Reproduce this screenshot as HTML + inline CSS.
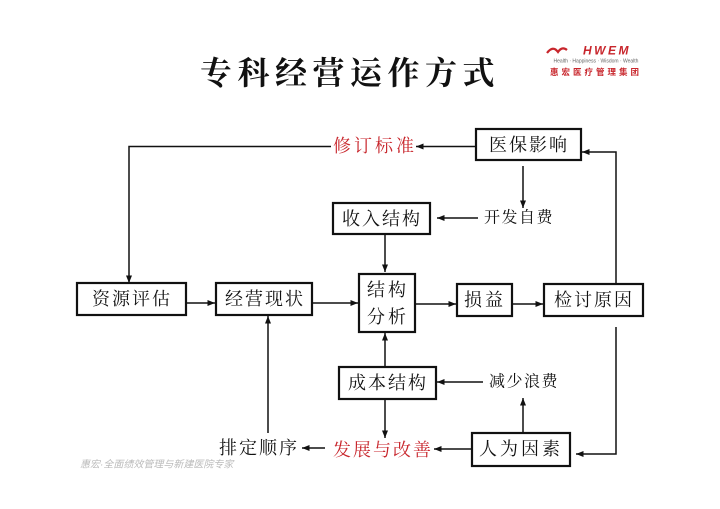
<!DOCTYPE html>
<html><head><meta charset="utf-8"><style>
html,body{margin:0;padding:0;background:#fff;}
svg{display:block;}
.t{font-family:"Liberation Serif","Noto Serif CJK SC",serif;font-size:18px;fill:#111;dominant-baseline:central;text-anchor:middle;}
.s{font-size:16px;}
.r{fill:#c8262c;}
</style></head><body>
<svg width="720" height="509" viewBox="0 0 720 509" xmlns="http://www.w3.org/2000/svg">
<defs>
<marker id="a" viewBox="0 0 10 8" refX="10" refY="4" markerWidth="8" markerHeight="6" markerUnits="userSpaceOnUse" orient="auto">
<path d="M0,0 L10,4 L0,8 Z" fill="#111"/>
</marker>
</defs>
<rect width="720" height="509" fill="#fff"/>
<!-- Title -->
<text x="350" y="71" style="font-family:'Noto Serif CJK SC',serif;font-size:32px;letter-spacing:5.5px;fill:#111;text-anchor:middle;dominant-baseline:central;font-weight:700">专科经营运作方式</text>
<!-- Logo -->
<path d="M547,53 Q553,45 558,52 Q562,46 567,50" fill="none" stroke="#c8262c" stroke-width="2.2"/>
<text x="607" y="50.5" style="font-family:'Liberation Sans',sans-serif;font-size:12px;font-weight:bold;font-style:italic;fill:#c8262c;text-anchor:middle;dominant-baseline:central;letter-spacing:2.5px">HWEM</text>
<text x="596" y="61.5" style="font-family:'Liberation Sans',sans-serif;font-size:5px;fill:#666;text-anchor:middle;dominant-baseline:central">Health · Happiness · Wisdom · Wealth</text>
<text x="596" y="72" style="font-family:'Noto Sans CJK SC',sans-serif;font-size:8.5px;fill:#c8262c;text-anchor:middle;dominant-baseline:central;letter-spacing:3px;font-weight:bold">惠宏医疗管理集团</text>

<g fill="none" stroke="#111" stroke-width="2.2">
<rect x="476" y="129" width="105" height="31"/>
<rect x="333" y="203" width="97" height="31"/>
<rect x="77" y="283" width="109" height="32"/>
<rect x="216" y="283" width="96" height="32"/>
<rect x="359" y="274" width="56" height="58"/>
<rect x="457" y="284" width="55" height="32"/>
<rect x="544" y="284" width="99" height="32"/>
<rect x="339" y="367" width="97" height="32"/>
<rect x="472" y="433" width="98" height="33"/>
</g>

<g fill="none" stroke="#111" stroke-width="1.5">
<line x1="476" y1="146.5" x2="416" y2="146.5" marker-end="url(#a)"/>
<polyline points="331,146.5 129,146.5 129,283" marker-end="url(#a)"/>
<line x1="523" y1="166" x2="523" y2="208" marker-end="url(#a)"/>
<line x1="478" y1="218" x2="437" y2="218" marker-end="url(#a)"/>
<line x1="385" y1="235" x2="385" y2="272" marker-end="url(#a)"/>
<line x1="186" y1="303" x2="215" y2="303" marker-end="url(#a)"/>
<line x1="312" y1="303" x2="358" y2="303" marker-end="url(#a)"/>
<line x1="415" y1="304" x2="456" y2="304" marker-end="url(#a)"/>
<line x1="512" y1="304" x2="543" y2="304" marker-end="url(#a)"/>
<polyline points="616,284 616,152 582,152" marker-end="url(#a)"/>
<polyline points="616,327 616,454 576,454" marker-end="url(#a)"/>
<line x1="385" y1="367" x2="385" y2="333" marker-end="url(#a)"/>
<line x1="483" y1="382" x2="437" y2="382" marker-end="url(#a)"/>
<line x1="523" y1="433" x2="523" y2="398" marker-end="url(#a)"/>
<line x1="385" y1="400" x2="385" y2="438" marker-end="url(#a)"/>
<line x1="472" y1="449" x2="434" y2="449" marker-end="url(#a)"/>
<line x1="325" y1="448" x2="302" y2="448" marker-end="url(#a)"/>
<line x1="268" y1="433" x2="268" y2="316" marker-end="url(#a)"/>
</g>

<text class="t r" x="375" y="146" style="letter-spacing:3px">修订标准</text>
<text class="t" x="529" y="145" style="letter-spacing:2px">医保影响</text>
<text class="t s" x="519" y="218" style="letter-spacing:1.5px">开发自费</text>
<text class="t" x="382" y="219" style="letter-spacing:2px">收入结构</text>
<text class="t" x="132" y="299" style="letter-spacing:2px">资源评估</text>
<text class="t" x="265" y="299" style="letter-spacing:2px">经营现状</text>
<text class="t" x="388" y="290" style="letter-spacing:3px">结构</text>
<text class="t" x="388" y="317" style="letter-spacing:3px">分析</text>
<text class="t" x="485" y="300" style="letter-spacing:3px">损益</text>
<text class="t" x="594" y="300" style="letter-spacing:2px">检讨原因</text>
<text class="t" x="388" y="383" style="letter-spacing:2px">成本结构</text>
<text class="t s" x="524" y="382" style="letter-spacing:1.5px">减少浪费</text>
<text class="t" x="521" y="449" style="letter-spacing:3px">人为因素</text>
<text class="t r" x="383" y="450" style="letter-spacing:2px">发展与改善</text>
<text class="t" x="259" y="448" style="letter-spacing:2px">排定顺序</text>

<text x="80" y="465" style="font-family:'Liberation Sans','Noto Sans CJK SC',sans-serif;font-size:10px;fill:#bbb;dominant-baseline:central;font-style:italic">惠宏·全面绩效管理与新建医院专家</text>
</svg>
</body></html>
